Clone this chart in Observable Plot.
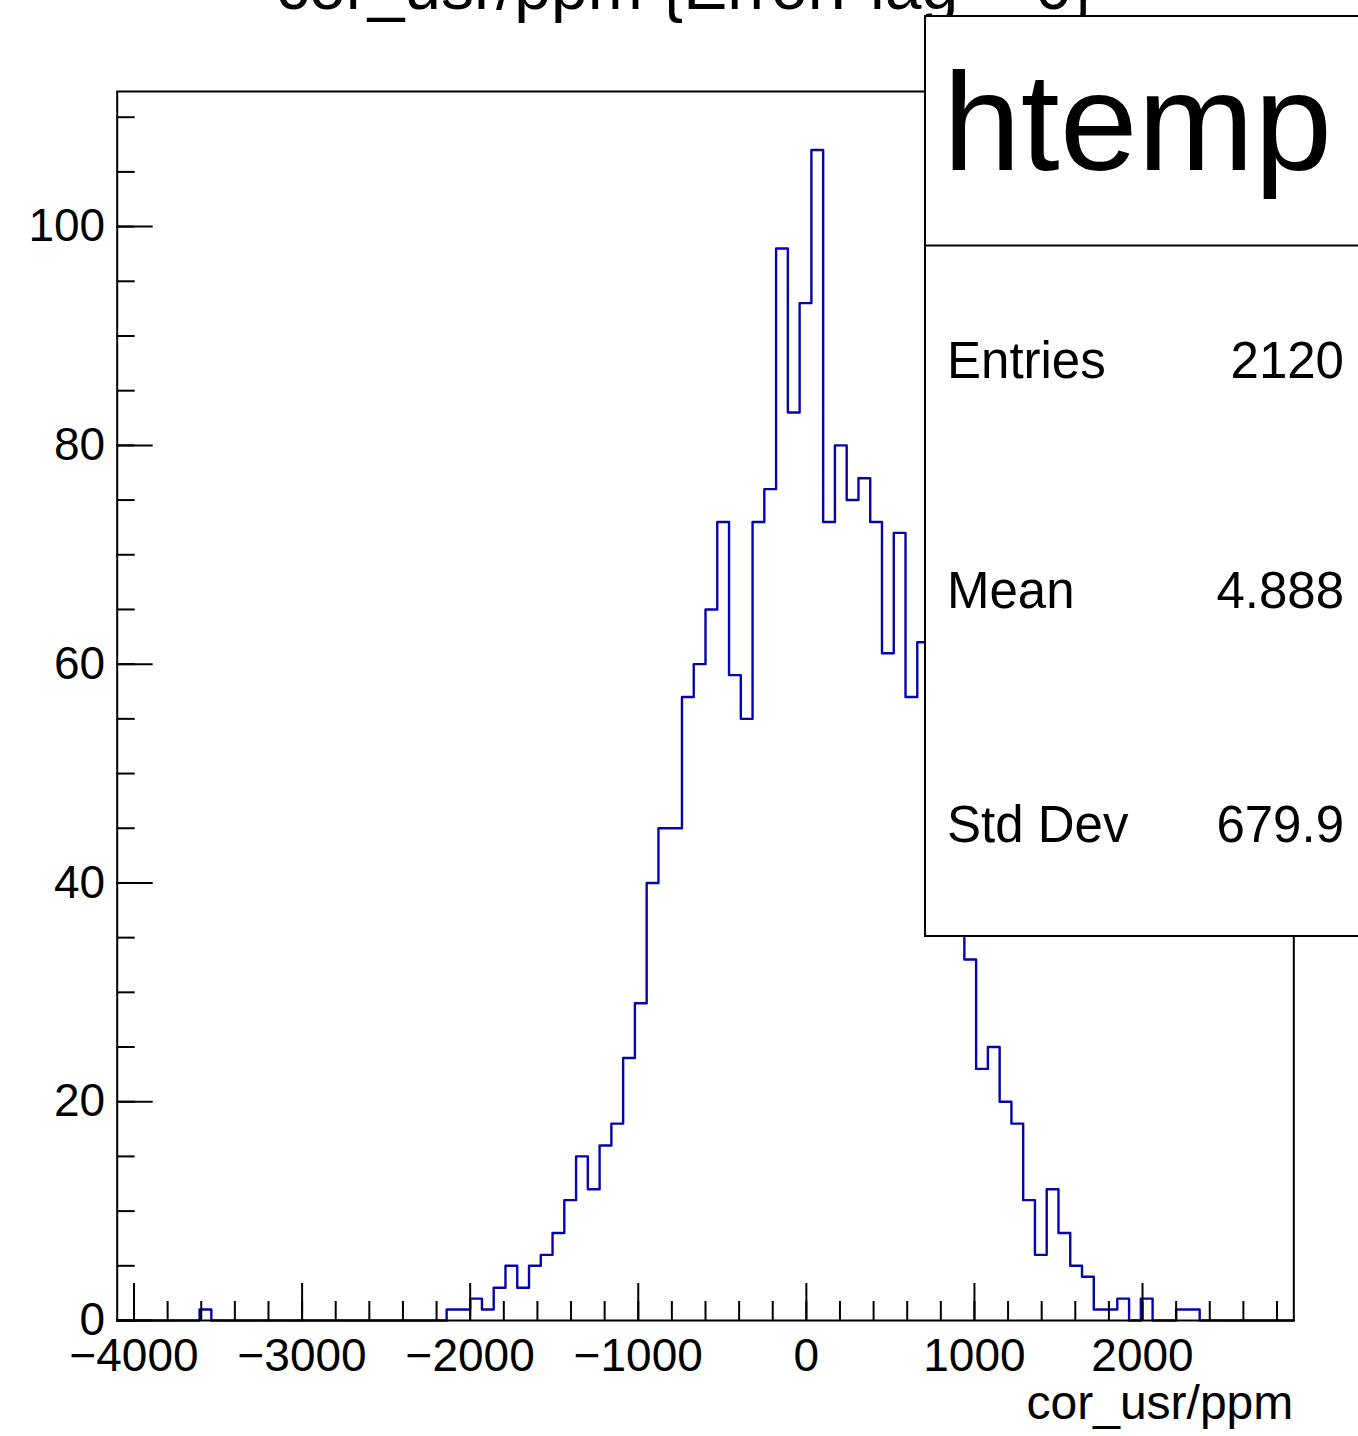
<!DOCTYPE html>
<html><head><meta charset="utf-8">
<script src="https://cdn.jsdelivr.net/npm/d3@7"></script>
<script src="https://cdn.jsdelivr.net/npm/@observablehq/plot@0.6"></script>
<style>body{margin:0;background:#fff} svg{display:block}</style>
</head><body><div id="chart"></div>
<script>
const title = "cor_usr/ppm {ErrorFlag==0}";
const xLabel = "cor_usr/ppm";
const histName = "htemp";
const xMin = -4100, xMax = 2900, nBins = 100;
const counts = [
  0,0,0,0,0,0,0,1,0,0,
  0,0,0,0,0,0,0,0,0,0,
  0,0,0,0,0,0,0,0,1,1,
  2,1,3,5,3,5,6,8,11,15,
  12,16,18,24,29,40,45,45,57,60,
  65,73,59,55,73,76,98,83,93,107,
  73,80,75,77,73,61,72,57,62,47,
  43,37,33,23,25,20,18,11,6,12,
  8,5,4,1,1,2,0,2,0,0,
  1,1,0,0,0,0,0,0,0,0
];
const xMajorTicks = [-4000,-3000,-2000,-1000,0,1000,2000];
const xMinorTicks = d3.range(-4000, 2801, 200);
const yMajorTicks = [0,20,40,60,80,100];
const yMinorTicks = d3.range(0, 111, 5);
const statLabels = ["Entries","Mean","Std Dev"];
const statValues = ["2120","4.888","679.9"];
const yMax = d3.max(counts) * 1.05;

const binW = (xMax - xMin) / nBins;
const pts = counts.map((c, i) => ({x: xMin + i * binW, y: c}));
pts.push({x: xMax, y: counts[nBins - 1]});

const W = 1358, H = 1436, ML = 116.7, MR = 64.7, MT = 91, MB = 116;
const font = "'Liberation Sans', Arial, Helvetica, sans-serif";
const fmt = d3.format("d");

const plot = Plot.plot({
  width: W, height: H,
  marginLeft: ML, marginRight: MR, marginTop: MT, marginBottom: MB,
  style: {fontFamily: font, fontSize: "46px", background: "white", color: "black"},
  x: {domain: [xMin, xMax]},
  y: {domain: [0, yMax]},
  marks: [
    Plot.line(pts, {x: "x", y: "y", curve: "step-after", stroke: "#0505b0", strokeWidth: 2.4}),
    Plot.axisX({ticks: xMinorTicks, tickSize: -19, text: null, strokeWidth: 2, label: null}),
    Plot.axisX({ticks: xMajorTicks, tickSize: -37, tickPadding: 37 + 18, tickFormat: fmt, strokeWidth: 2, label: null, fontSize: 46}),
    Plot.axisY({ticks: yMinorTicks, tickSize: -18, text: null, strokeWidth: 2, label: null}),
    Plot.axisY({ticks: yMajorTicks, tickSize: -36, tickPadding: 36 + 12, tickFormat: fmt, strokeWidth: 2, label: null, fontSize: 46}),
    Plot.frame({stroke: "black", strokeWidth: 2})
  ]
});
document.getElementById("chart").appendChild(plot);

const svg = d3.select(plot);
svg.append("text").attr("x", 685).attr("y", 9).attr("text-anchor", "middle")
  .attr("font-family", font).attr("font-size", 66).attr("fill", "black").text(title);
svg.append("text").attr("x", W - MR).attr("y", 1419).attr("text-anchor", "end")
  .attr("font-family", font).attr("font-size", 48).attr("fill", "black").text(xLabel);

const box = svg.append("g");
box.append("rect").attr("x", 925).attr("y", 16).attr("width", 440).attr("height", 920)
  .attr("fill", "white").attr("stroke", "black").attr("stroke-width", 2);
box.append("line").attr("x1", 925).attr("x2", 1365).attr("y1", 245.5).attr("y2", 245.5)
  .attr("stroke", "black").attr("stroke-width", 2);
box.append("text").attr("x", 943).attr("y", 170).attr("text-anchor", "start").attr("font-family", font)
  .attr("font-size", 140).attr("fill", "black").text(histName);
const baselines = [377.5, 608, 842];
statLabels.forEach((l, i) => {
  box.append("text").attr("x", 947).attr("y", baselines[i]).attr("text-anchor", "start").attr("font-family", font)
    .attr("font-size", 51).attr("fill", "black").text(l);
  box.append("text").attr("x", 1344).attr("y", baselines[i]).attr("text-anchor", "end")
    .attr("font-family", font).attr("font-size", 51).attr("fill", "black").text(statValues[i]);
});
</script>
</body></html>
